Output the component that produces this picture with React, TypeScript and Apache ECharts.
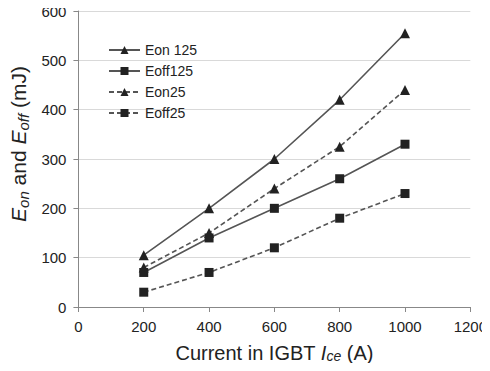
import React, { useEffect, useRef } from "react";
import * as echarts from "echarts";

const currents = [200, 400, 600, 800, 1000];
const eon125 = [105, 200, 300, 420, 555];
const eoff125 = [70, 140, 200, 260, 330];
const eon25 = [80, 150, 240, 325, 440];
const eoff25 = [30, 70, 120, 180, 230];
const seriesNames = ["Eon 125", "Eoff125", "Eon25", "Eoff25"];

const FONT = "Liberation Sans, Arial, sans-serif";

export default function App() {
  const ref = useRef<HTMLDivElement>(null);
  useEffect(() => {
    if (!ref.current) return;
    const chart = echarts.init(ref.current, null, { renderer: "svg" });
    const mk = (name: string, vals: number[], symbol: string, dashed: boolean) => ({
      name,
      type: "line",
      data: currents.map((c, i) => [c, vals[i]]),
      symbol,
      symbolSize: symbol === "triangle" ? 10 : 9,
      itemStyle: { color: "#222" },
      lineStyle: { color: "#555", width: 1.6, type: dashed ? [5, 3] : "solid" },
    });
    const titleRich = (big: number, small: number, sub: number) => ({
      n: { fontSize: big, color: "#222", fontFamily: FONT },
      i: { fontSize: big, color: "#222", fontStyle: "italic", fontFamily: FONT },
      s: { fontSize: small, color: "#222", fontStyle: "italic", fontFamily: FONT, padding: [sub, 0, 0, 0] },
    });
    chart.setOption({
      animation: false,
      textStyle: { fontFamily: FONT },
      grid: { left: 76, right: 17, top: 11, bottom: 64 },
      legend: {
        orient: "vertical",
        left: 103,
        top: 38,
        itemWidth: 31,
        itemHeight: 10,
        itemGap: 7,
        data: seriesNames,
        textStyle: { fontSize: 14, color: "#222", fontFamily: FONT },
      },
      xAxis: {
        type: "value",
        min: 0,
        max: 1200,
        interval: 200,
        axisLine: { lineStyle: { color: "#888" } },
        axisTick: { show: true, length: 5, lineStyle: { color: "#888" } },
        splitLine: { show: false },
        axisLabel: { fontSize: 15, color: "#222", margin: 12, fontFamily: FONT, formatter: (v: number) => String(v) },
        name: "{n|Current in IGBT }{i|I}{s|ce}{n| (A)}",
        nameLocation: "middle",
        nameGap: 35,
        nameTextStyle: { rich: titleRich(20, 14, 7) },
      },
      yAxis: {
        type: "value",
        min: 0,
        max: 600,
        interval: 100,
        axisLine: { show: true, lineStyle: { color: "#888" } },
        axisTick: { show: true, length: 5, lineStyle: { color: "#888" } },
        splitLine: { show: true, lineStyle: { color: "#d9d9d9", width: 1 } },
        axisLabel: { fontSize: 15, color: "#222", margin: 12, fontFamily: FONT, formatter: (v: number) => String(v) },
        name: "{i|E}{s|on}{n| and }{i|E}{s|off}{n| (mJ)}",
        nameLocation: "middle",
        nameGap: 47,
        nameRotate: 90,
        nameTextStyle: { rich: titleRich(21, 15, 9), padding: [0, 0, 0, 30] },
      },
      series: [
        mk(seriesNames[0], eon125, "triangle", false),
        mk(seriesNames[1], eoff125, "rect", false),
        mk(seriesNames[2], eon25, "triangle", true),
        mk(seriesNames[3], eoff25, "rect", true),
      ],
    });
    return () => chart.dispose();
  }, []);
  return <div ref={ref} style={{ width: 490, height: 371, margin: -8 }} />;
}
